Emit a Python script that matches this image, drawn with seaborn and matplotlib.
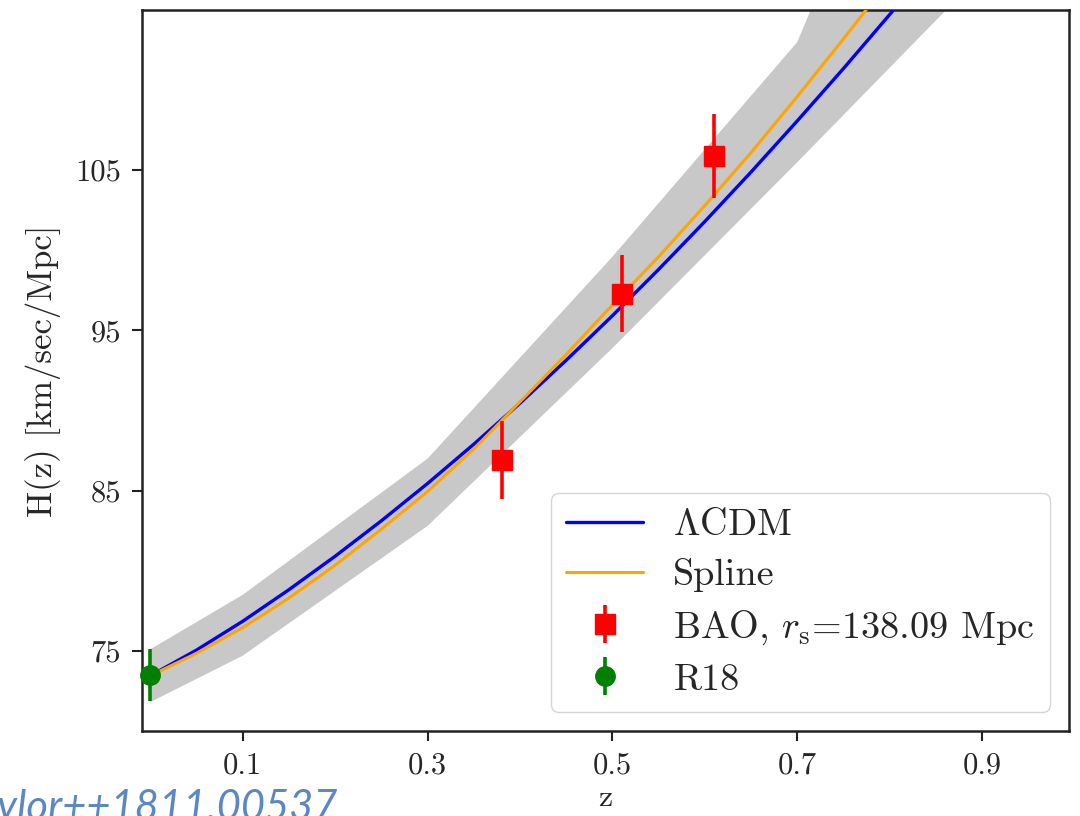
import matplotlib
matplotlib.use("Agg")
import matplotlib.pyplot as plt
import seaborn as sns
import pandas as pd

# ---- data ----
z_grid = [0.0, 0.05, 0.1, 0.15, 0.2, 0.25, 0.3, 0.35, 0.4, 0.45, 0.5,
          0.55, 0.6, 0.65, 0.7, 0.75, 0.8, 0.85, 0.9]
h_lcdm = [73.45, 75.05, 76.85, 78.82, 80.91, 83.12, 85.45, 87.90, 90.46, 93.14,
          95.92, 98.81, 101.80, 104.89, 108.08, 111.35, 114.72, 118.18, 121.72]
h_spline = [73.45, 74.85, 76.45, 78.30, 80.35, 82.60, 84.95, 87.60, 90.55, 93.50,
            96.60, 99.60, 102.80, 106.10, 109.60, 113.20, 116.90, 120.70, 124.60]

band_z = [0.0, 0.1, 0.3, 0.5, 0.7, 0.9]
band_lo = [71.8, 74.7, 82.8, 93.9, 105.5, 117.3]
band_hi = [75.1, 78.5, 87.0, 99.6, 113.0, 140.6]

bao_z = [0.38, 0.51, 0.61]
bao_h = [86.9, 97.3, 105.9]
bao_err = [2.45, 2.42, 2.64]

r18_z = [0.0]
r18_h = [73.52]
r18_err = [1.62]

xticks = [0.1, 0.3, 0.5, 0.7, 0.9]
yticks = [75, 85, 95, 105]

sns.set_theme(style="ticks")
plt.rcParams["font.family"] = ["cmr10", "DejaVu Serif"]
plt.rcParams["mathtext.fontset"] = "cm"
plt.rcParams["axes.formatter.use_mathtext"] = True
plt.rcParams["axes.unicode_minus"] = False

fig = plt.figure(figsize=(10.8, 8.16), dpi=100)
ax = fig.add_axes([0.1315, 0.1042, 0.8583, 0.8835])

ax.fill_between(band_z, band_lo, band_hi, color="#c8c8c8", linewidth=0, zorder=1)

curves = pd.DataFrame({"z": z_grid, "lcdm": h_lcdm, "spline": h_spline})
sns.lineplot(data=curves, x="z", y="lcdm", ax=ax, color="blue", linewidth=2.4,
             label=r"$\Lambda$CDM", zorder=3)
sns.lineplot(data=curves, x="z", y="spline", ax=ax, color="orange", linewidth=2.2,
             label="Spline", zorder=3)

ax.errorbar(bao_z, bao_h, yerr=bao_err, fmt="s", color="red", ms=14,
            elinewidth=2.6, capsize=0, label=r"BAO, $r_{\rm s}$=138.09 Mpc", zorder=4)
ax.errorbar(r18_z, r18_h, yerr=r18_err, fmt="o", color="green", ms=14,
            elinewidth=2.6, capsize=0, label="R18", zorder=5, clip_on=False)

ax.set_xlim(-0.009, 0.994)
ax.set_ylim(70.0, 115.0)
ax.set_xticks(xticks)
ax.set_yticks(yticks)
ax.set_xticklabels([f"{t:.1f}" for t in xticks])
ax.set_yticklabels([str(t) for t in yticks])
ax.tick_params(axis="both", labelsize=22, length=7, width=1.5, color="#222222",
               direction="out", pad=8)
for s in ax.spines.values():
    s.set_linewidth(1.8)
    s.set_color("#222222")

ax.set_xlabel("z", fontsize=23, labelpad=4)
ax.set_ylabel("H(z) [km/sec/Mpc]", fontsize=25, labelpad=10)

leg = ax.legend(loc="lower right", fontsize=27.5, frameon=True, fancybox=True,
                framealpha=0.8, edgecolor="0.8", handlelength=2.0,
                labelspacing=0.42, borderaxespad=0.5)

fig.text(338 / 1080, -4 / 816, "Taylor++1811.00537", ha="right", va="baseline",
         fontsize=30, style="italic", weight="normal", color="#5b87c4",
         family="Lato")

fig.savefig("out.png", dpi=100)
